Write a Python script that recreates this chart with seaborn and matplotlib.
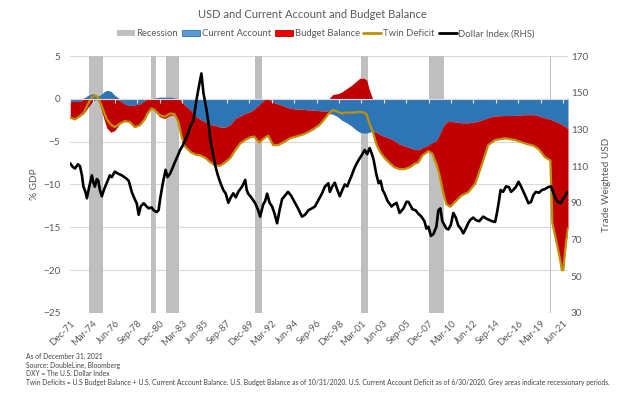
import numpy as np
import matplotlib
matplotlib.use("Agg")
import matplotlib.pyplot as plt
from matplotlib.patches import Patch
from matplotlib.lines import Line2D
import seaborn as sns

# ---------------- data ----------------
bal_dates = [1971.92, 1972.4, 1972.9, 1973.3, 1973.7, 1974.1, 1974.4, 1974.7, 1975.0, 1975.3,
             1975.6, 1976.0, 1976.4, 1976.9, 1977.4, 1977.9, 1978.4, 1978.9, 1979.4, 1979.7,
             1980.1, 1980.4, 1980.9, 1981.4, 1982.0, 1982.4, 1982.8, 1983.1, 1983.4, 1984.0,
             1984.5, 1985.0, 1985.5, 1986.0, 1986.5, 1987.0, 1987.5, 1988.0, 1988.5, 1989.0,
             1989.5, 1990.0, 1990.4, 1990.9, 1991.4, 1991.8, 1992.3, 1992.8, 1993.3, 1994.0,
             1994.6, 1995.2, 1995.8, 1996.4, 1997.0, 1997.5, 1997.9, 1998.3, 1998.8, 1999.2,
             1999.7, 2000.2, 2000.6, 2001.0, 2001.4, 2001.7, 2001.95, 2002.3, 2002.7, 2003.1,
             2003.5, 2004.0, 2004.5, 2005.0, 2005.5, 2006.0, 2006.5, 2006.9, 2007.3, 2007.9,
             2008.3, 2008.7, 2009.0, 2009.4, 2009.7, 2010.1, 2010.6, 2011.2, 2011.9, 2012.6,
             2013.2, 2013.9, 2014.6, 2015.6, 2016.6, 2017.6, 2018.5, 2019.0, 2019.6, 2020.15,
             2020.35, 2020.8, 2021.15, 2021.3, 2021.45, 2021.6, 2021.75, 2021.92]

current_account = [-0.3, -0.3, -0.3, 0.1, 0.4, 0.6, 0.5, 0.3, 0.5, 0.8,
                   1.0, 0.9, 0.4, -0.2, -0.6, -0.8, -0.7, -0.6, -0.2, 0.0,
                   0.0, 0.1, 0.2, 0.2, 0.2, 0.1, 0.0, -0.3, -0.7, -1.3,
                   -2.0, -2.4, -2.7, -3.0, -3.1, -3.3, -3.3, -3.0, -2.3, -2.0,
                   -1.7, -1.5, -1.2, -0.7, -0.1, 0.0, -0.4, -0.6, -0.8, -1.1,
                   -1.2, -1.2, -1.3, -1.3, -1.4, -1.4, -1.5, -1.8, -2.1, -2.5,
                   -2.8, -3.2, -3.6, -3.9, -4.0, -4.0, -3.9, -3.8, -3.9, -4.2,
                   -4.4, -4.6, -4.9, -5.3, -5.5, -5.7, -5.9, -5.95, -5.7, -5.4,
                   -5.1, -4.9, -4.2, -3.2, -2.7, -2.6, -2.7, -2.8, -2.8, -2.7,
                   -2.5, -2.2, -2.0, -1.95, -1.95, -1.85, -1.85, -2.0, -2.2, -2.4,
                   -2.5, -2.7, -2.9, -3.0, -3.1, -3.2, -3.35, -3.45]

budget_balance = [-1.9, -2.1, -1.7, -1.7, -1.0, -0.4, -0.1, -0.1, -1.1, -2.3,
                  -3.4, -3.9, -3.7, -2.7, -2.0, -1.9, -2.6, -2.5, -2.2, -1.7,
                  -1.1, -1.4, -2.1, -2.3, -1.9, -1.9, -2.7, -4.1, -4.8, -4.9,
                  -4.5, -4.2, -4.2, -4.4, -4.7, -4.5, -4.1, -3.9, -3.7, -3.2,
                  -3.1, -3.0, -3.2, -4.4, -4.5, -4.3, -5.0, -4.8, -4.3, -3.5,
                  -3.2, -3.0, -2.6, -2.2, -1.6, -0.9, -0.2, 0.5, 0.6, 0.8,
                  1.2, 1.6, 2.0, 2.4, 2.4, 2.2, 1.1, 0.0, -1.5, -2.1,
                  -2.5, -2.9, -3.1, -2.9, -2.7, -2.3, -1.7, -1.45, -0.9, -0.7,
                  -1.3, -2.7, -4.6, -7.8, -9.6, -10.0, -9.3, -8.5, -8.1, -7.2,
                  -5.4, -3.2, -2.8, -2.65, -2.85, -3.35, -3.65, -3.9, -4.6, -4.8,
                  -12.0, -14.2, -16.0, -17.0, -16.9, -14.9, -13.15, -11.65]

dxy_dates = [1971.92, 1972.2, 1972.4, 1972.7, 1972.9, 1973.1, 1973.25, 1973.45, 1973.6, 1973.8,
             1974.1, 1974.25, 1974.4, 1974.6, 1974.75, 1974.9, 1975.1, 1975.3, 1975.6, 1975.9,
             1976.1, 1976.4, 1976.7, 1977.1, 1977.5, 1977.8, 1978.1, 1978.4, 1978.6, 1978.8,
             1979.0, 1979.3, 1979.6, 1979.8, 1980.1, 1980.3, 1980.6, 1980.8, 1980.95, 1981.2,
             1981.5, 1981.7, 1981.96, 1982.2, 1982.5, 1982.75, 1982.96, 1983.2, 1983.45, 1983.7,
             1983.97, 1984.3, 1984.6, 1984.9, 1985.1, 1985.3, 1985.6, 1985.8, 1986.0, 1986.25,
             1986.5, 1986.75, 1987.0, 1987.3, 1987.55, 1987.8, 1988.05, 1988.3, 1988.55, 1988.8,
             1989.2, 1989.5, 1989.65, 1989.8, 1990.1, 1990.5, 1990.8, 1991.0, 1991.3, 1991.5,
             1991.7, 1991.95, 1992.2, 1992.45, 1992.7, 1992.95, 1993.2, 1993.5, 1993.8, 1994.1,
             1994.5, 1994.8, 1995.2, 1995.5, 1995.85, 1996.2, 1996.5, 1996.8, 1997.2, 1997.5,
             1997.85, 1998.0, 1998.25, 1998.5, 1998.75, 1999.0, 1999.25, 1999.5, 1999.75, 2000.0,
             2000.2, 2000.4, 2000.65, 2000.9, 2001.2, 2001.5, 2001.75, 2002.0, 2002.2, 2002.4,
             2002.65, 2002.9, 2003.1, 2003.3, 2003.5, 2003.8, 2004.2, 2004.4, 2004.7, 2005.0,
             2005.4, 2005.7, 2005.9, 2006.3, 2006.6, 2006.9, 2007.2, 2007.5, 2007.7, 2007.9,
             2008.15, 2008.4, 2008.7, 2008.9, 2009.1, 2009.3, 2009.5, 2009.7, 2009.9, 2010.15,
             2010.4, 2010.65, 2010.9, 2011.15, 2011.4, 2011.65, 2011.9, 2012.1, 2012.4, 2012.7,
             2013.0, 2013.4, 2013.7, 2014.0, 2014.3, 2014.6, 2014.8, 2014.95, 2015.15, 2015.4,
             2015.7, 2016.0, 2016.2, 2016.5, 2016.7, 2016.95, 2017.2, 2017.45, 2017.7, 2017.95,
             2018.2, 2018.45, 2018.7, 2019.0, 2019.3, 2019.6, 2019.9, 2020.2, 2020.35, 2020.55,
             2020.75, 2020.95, 2021.2, 2021.4, 2021.6, 2021.75, 2021.92]

dollar_index = [111.5, 109.5, 108.7, 111, 110, 105, 98.8, 96, 92.5, 98,
                105, 101, 98.8, 103, 102, 97, 93.6, 97, 101, 105,
                104, 107, 106, 105, 103.5, 102, 96, 92, 89.8, 83.5,
                88, 89.8, 88, 87, 87.5, 86, 85, 86, 92, 100,
                108, 104, 106, 109, 113, 116, 118.8, 121, 124, 127,
                131.5, 135, 146, 155, 160.5, 150, 141, 134, 124, 117,
                110, 105, 101, 97, 95, 90, 93, 95.2, 93, 96,
                99, 102.5, 97, 95, 93, 89.8, 86, 82.5, 89, 91,
                95, 90, 88, 84, 78.9, 86, 92, 94, 96, 94,
                90, 87, 82.5, 83.5, 86, 87, 88, 91, 95, 98.8,
                100.7, 96, 99, 101, 97, 93.6, 97, 100, 99, 102.5,
                105, 108, 111, 113.4, 116, 118.8, 116.5, 119.9, 117, 113.4,
                106, 100.7, 102, 97, 95, 91, 88, 89, 90, 84.5,
                87, 90.6, 90.5, 86.5, 86, 84, 82.5, 80, 76, 77,
                72, 73, 77, 86, 87, 80, 78, 76, 75.5, 78,
                84.5, 82, 77.6, 76, 73.4, 76, 79, 80.7, 82, 80.5,
                80, 82.5, 81.5, 80.7, 80, 79.6, 85, 89.8, 97, 96,
                99, 98.5, 96, 97.5, 98.8, 101.5, 99, 96, 93, 89.8,
                90.5, 94.3, 96, 95.5, 97, 97.5, 98.5, 99, 97, 94,
                91.6, 90.5, 89.8, 92, 93.4, 95, 96]

recession_start = [1973.83, 1980.0, 1981.5, 1990.5, 2001.17, 2007.92, 2020.08]
recession_end = [1975.17, 1980.5, 1982.83, 1991.17, 2001.83, 2009.42, 2020.25]

x_tick_labels = ['Dec-71', 'Mar-74', 'Jun-76', 'Sep-78', 'Dec-80', 'Mar-83', 'Jun-85', 'Sep-87',
                 'Dec-89', 'Mar-92', 'Jun-94', 'Sep-96', 'Dec-98', 'Mar-01', 'Jun-03', 'Sep-05',
                 'Dec-07', 'Mar-10', 'Jun-12', 'Sep-14', 'Dec-16', 'Mar-19', 'Jun-21']
left_ticks = [5, 0, -5, -10, -15, -20, -25]
right_ticks = [170, 150, 130, 110, 90, 70, 50, 30]

title = "USD and Current Account and Budget Balance"
footnotes = [
    "As of December 31, 2021",
    "Source: DoubleLine, Bloomberg",
    "DXY = The U.S. Dollar Index",
    "Twin Deficits = U.S Budget Balance + U.S. Current Account Balance. U.S. Budget Balance as of 10/31/2020. "
    "U.S. Current Account Deficit as of 6/30/2020. Grey areas indicate recessionary periods.",
]

# ---------------- style ----------------
sns.set_theme(style="white")
plt.rcParams['font.family'] = ['Lato', 'DejaVu Sans']

BLUE = '#2E75B6'
RED = '#C00000'
GOLD = '#BF9000'
GREY = '#BFBFBF'
GRID = '#D9D9D9'
TXT = '#595959'

W, H = 624, 394
fig = plt.figure(figsize=(W / 100, H / 100), dpi=100)
ax = fig.add_axes([70 / W, 1 - 313 / H, 498 / W, 257 / H])

months = {'Jan': 1, 'Feb': 2, 'Mar': 3, 'Apr': 4, 'May': 5, 'Jun': 6,
          'Jul': 7, 'Aug': 8, 'Sep': 9, 'Oct': 10, 'Nov': 11, 'Dec': 12}
tick_pos = [2000 + int(l[4:]) - (100 if int(l[4:]) > 50 else 0) + (months[l[:3]] - 1) / 12
            for l in x_tick_labels]

d = np.array(bal_dates)
ca = np.array(current_account)
bb = np.array(budget_balance)
twin = ca + bb
ca_pos, ca_neg = np.clip(ca, 0, None), np.clip(ca, None, 0)
bb_pos, bb_neg = np.clip(bb, 0, None), np.clip(bb, None, 0)

for s, e in zip(recession_start, recession_end):
    ax.axvspan(s, e, color=GREY, lw=0, zorder=0.8)

ax.fill_between(d, 0, ca_pos, color=BLUE, lw=0, zorder=1)
ax.fill_between(d, 0, ca_neg, color=BLUE, lw=0, zorder=1)
ax.fill_between(d, ca_pos, ca_pos + bb_pos, color=RED, lw=0, zorder=1)
ax.fill_between(d, ca_neg, ca_neg + bb_neg, color=RED, lw=0, zorder=1)
sns.lineplot(x=d, y=twin, ax=ax, color=GOLD, lw=1.6, estimator=None, legend=False, zorder=3)

XMIN, XMAX = 1971.90, 2021.92
ax.set_xlim(XMIN, XMAX)
ax.set_ylim(-25, 5)
ax.set_yticks(left_ticks)
ax.yaxis.grid(True, color=GRID, lw=0.8)
ax.xaxis.grid(False)
ax.set_axisbelow(True)
for sp in ax.spines.values():
    sp.set_visible(False)
ax.set_xticks(tick_pos)
ax.set_xticklabels(x_tick_labels, rotation=45, ha='right', rotation_mode='anchor')
ax.tick_params(axis='x', length=0, pad=4, labelsize=6.8, labelcolor=TXT)
ax.tick_params(axis='y', length=0, pad=7, labelsize=7.2, labelcolor=TXT)
ax.set_ylabel('% GDP', fontsize=7.2, color=TXT, labelpad=3)
ax.set_xlabel('')

# category axis line at zero with tick marks
ax.axhline(0, color=GRID, lw=0.8, zorder=4)
sec = ax.secondary_xaxis(25 / 30)
sec.set_xticks(tick_pos)
sec.set_xticklabels([])
sec.tick_params(axis='x', direction='out', length=3, color='#E6E6E6', width=0.8, top=False, bottom=True)
for sp in sec.spines.values():
    sp.set_visible(False)
sec.set_zorder(5)

ax2 = ax.twinx()
sns.lineplot(x=dxy_dates, y=dollar_index, ax=ax2, color='black', lw=1.9, estimator=None, legend=False)
ax2.set_ylim(30, 170)
ax2.set_yticks(right_ticks)
ax2.grid(False)
for sp in ax2.spines.values():
    sp.set_visible(False)
ax2.tick_params(axis='y', length=0, pad=2, labelsize=7.2, labelcolor=TXT)
ax2.set_ylabel('Trade Weighted USD', fontsize=7.2, color=TXT, labelpad=10)
ax2.set_xlim(XMIN, XMAX)

fig.text(0.5, 1 - 14 / H, title, ha='center', va='center', fontsize=8.0, color=TXT)

handles = [Patch(facecolor=GREY, edgecolor='none'),
           Patch(facecolor='#5B9BD5', edgecolor=BLUE, lw=0.6),
           Patch(facecolor='#F00000', edgecolor=RED, lw=0.6),
           Line2D([], [], color=GOLD, lw=2),
           Line2D([], [], color='black', lw=2)]
labels = ['Recession', 'Current Account', 'Budget Balance', 'Twin Deficit', 'Dollar Index (RHS)']
fig.legend(handles, labels, loc='center', bbox_to_anchor=(0.522, 1 - 34 / H), ncol=5, frameon=False,
           fontsize=6.8, labelcolor=TXT, handlelength=1.9, handleheight=0.6, columnspacing=0.4,
           handletextpad=0.2, borderaxespad=0)

for i, line in enumerate(footnotes):
    fig.text(26 / W, 1 - (356 + i * 9) / H, line, ha='left', va='center', fontsize=4.9, color='#404040')

fig.savefig('out.png', dpi=100)
